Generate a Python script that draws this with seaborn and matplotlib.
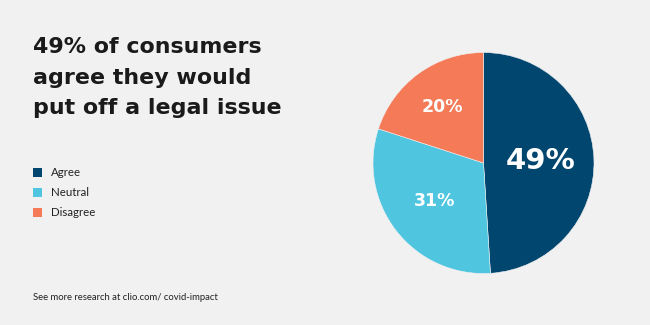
import matplotlib
matplotlib.use("Agg")
import matplotlib.pyplot as plt
import matplotlib.patches as mpatches
import seaborn as sns
import numpy as np

# Data
categories = ["Agree", "Neutral", "Disagree"]
values = [49, 31, 20]
value_labels = ["49%", "31%", "20%"]
title_lines = ["49% of consumers", "agree they would", "put off a legal issue"]
footer = "See more research at clio.com/ covid-impact"

BG = "#f1f1f1"
colors = sns.color_palette(["#00466f", "#4fc5e0", "#f47a58"])

sns.set_theme(style="white")
plt.rcParams["font.family"] = ["Lato", "DejaVu Sans"]

fig = plt.figure(figsize=(6.5, 3.25), dpi=100)
fig.patch.set_facecolor(BG)

# Pie axes
W, H = 650, 325
cx, cy, R = 483.5, 163, 110.5
ax = fig.add_axes([(cx - R) / W, (H - cy - R) / H, 2 * R / W, 2 * R / H])
ax.set_facecolor(BG)
wedges, _ = ax.pie(values, colors=colors, startangle=90, counterclock=False,
                   radius=1, wedgeprops=dict(linewidth=0.4, edgecolor=BG))
ax.set_xlim(-1, 1)
ax.set_ylim(-1, 1)
ax.set_aspect("equal")
ax.axis("off")

label_r = [0.52, 0.565, 0.63]
label_size = [21, 12.5, 12.5]
for w, lab, r, fs in zip(wedges, value_labels, label_r, label_size):
    mid = np.deg2rad((w.theta1 + w.theta2) / 2)
    ax.text(r * np.cos(mid), r * np.sin(mid), lab, ha="center", va="center",
            color="white", fontsize=fs, fontweight="bold", family="DejaVu Sans")

# Title
for i, line in enumerate(title_lines):
    fig.text(33 / W, 1 - (47 + i * 30.5) / H, line, ha="left", va="center",
             fontsize=15.9, fontweight="bold", color="#1a1a1a", family="DejaVu Sans")

# Legend
for i, (cat, col) in enumerate(zip(categories, colors)):
    y = 173 + i * 19.7
    fig.patches.append(mpatches.Rectangle((33 / W, 1 - (y + 4.5) / H), 9 / W, 9 / H,
                                          transform=fig.transFigure, facecolor=col,
                                          edgecolor="none"))
    fig.text(51 / W, 1 - y / H, cat, ha="left", va="center", fontsize=8.3,
             color="#222222")

fig.text(33 / W, 1 - 298 / H, footer, ha="left", va="center", fontsize=6.8,
         color="#222222")

fig.savefig("out.png", dpi=100, facecolor=BG)
